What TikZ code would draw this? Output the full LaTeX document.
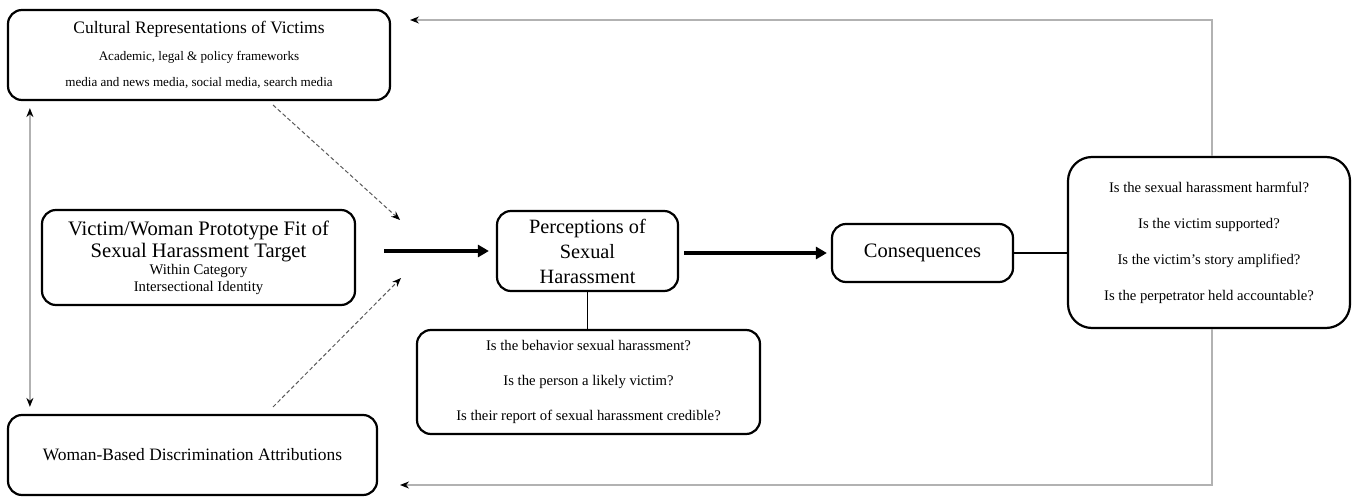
\documentclass[tikz,border=0pt]{standalone}
\usepackage{fontspec}
\setmainfont{Liberation Serif}
\usetikzlibrary{arrows.meta}
\begin{document}
\begin{tikzpicture}[x=1pt,y=-1pt,
  box/.style={draw=black, line width=2.2pt, rounded corners=14pt, align=center, inner sep=0pt},
  bigarrow/.style={line width=3.6pt, -{Triangle[length=11pt,width=12pt]}},
  feedback/.style={draw=gray!60, line width=1.3pt},
  plain/.style={draw=black, line width=1.6pt},
  dasharrow/.style={draw=gray!70!black, line width=1pt, dash pattern=on 4pt off 2.5pt, -{Stealth[black,length=9pt,width=7pt]}},
  tip/.style={-{Stealth[black,length=9pt,width=7pt]}}
]
\useasboundingbox (0,0) rectangle (1356,497);

\node[box, minimum width=382pt, minimum height=90pt, font=\fontsize{13.1}{26}\selectfont] (cult) at (199,55)
  {{\fontsize{17.5}{20}\selectfont Cultural Representations of Victims}\\[1pt]
   Academic, legal \& policy frameworks\\
   media and news media, social media, search media};

\node[box, minimum width=313pt, minimum height=95pt, font=\fontsize{14.7}{17}\selectfont] (proto) at (198.5,257.5)
  {{\fontsize{20.6}{23}\selectfont Victim/Woman Prototype Fit of}\\[2pt]
   {\fontsize{20.6}{23}\selectfont Sexual Harassment Target}\\
   Within Category\\
   Intersectional Identity};

\node[box, minimum width=369pt, minimum height=80pt, font=\fontsize{17.4}{20}\selectfont] (disc) at (192.5,455)
  {Woman-Based Discrimination Attributions};

\node[box, minimum width=181pt, minimum height=80pt, font=\fontsize{20.3}{25}\selectfont] (perc) at (587.5,251)
  {Perceptions of\\ Sexual\\ Harassment};

\node[box, minimum width=343pt, minimum height=104pt, font=\fontsize{14.7}{35}\selectfont] (quest) at (588.5,382)
  {Is the behavior sexual harassment?\\
   Is the person a likely victim?\\
   Is their report of sexual harassment credible?};

\node[box, minimum width=181pt, minimum height=58pt, font=\fontsize{20.5}{23}\selectfont] (cons) at (922.5,253)
  {Consequences};

\node[box, rounded corners=24pt, minimum width=282pt, minimum height=171pt, font=\fontsize{14.7}{36}\selectfont] (res) at (1209,242.5)
  {Is the sexual harassment harmful?\\
   Is the victim supported?\\
   Is the victim's story amplified?\\
   Is the perpetrator held accountable?};

% main flow
\draw[bigarrow, shorten <=28pt, shorten >=7pt] (proto.east |- perc.west) -- (perc.west);
\draw[bigarrow, shorten <=5pt, shorten >=4pt] (perc.east |- cons.west) -- (cons.west);
\draw[plain] (perc.south) -- (perc.south |- quest.north);
\draw[plain] (cons.east) -- (cons.east -| res.west);

% dashed influences
\coordinate (dA) at (273,105);
\coordinate (dB) at (400,220);
\coordinate (dC) at (273,407);
\coordinate (dD) at (401,278);
\draw[dasharrow] (dA) -- (dB);
\draw[dasharrow] (dC) -- (dD);

% left double arrow
\draw[feedback, {Stealth[black,length=9pt,width=7pt]}-{Stealth[black,length=9pt,width=7pt]}]
  ([xshift=23pt,yshift=-7pt]cult.south west) -- ([xshift=23pt,yshift=7pt]disc.north west);

% feedback loops
\coordinate (topend) at (410,20);
\coordinate (botend) at (400,485);
\draw[feedback, tip] ([xshift=3pt]res.north) |- (topend);
\draw[feedback, tip] ([xshift=3pt]res.south) |- (botend);
\end{tikzpicture}
\end{document}
